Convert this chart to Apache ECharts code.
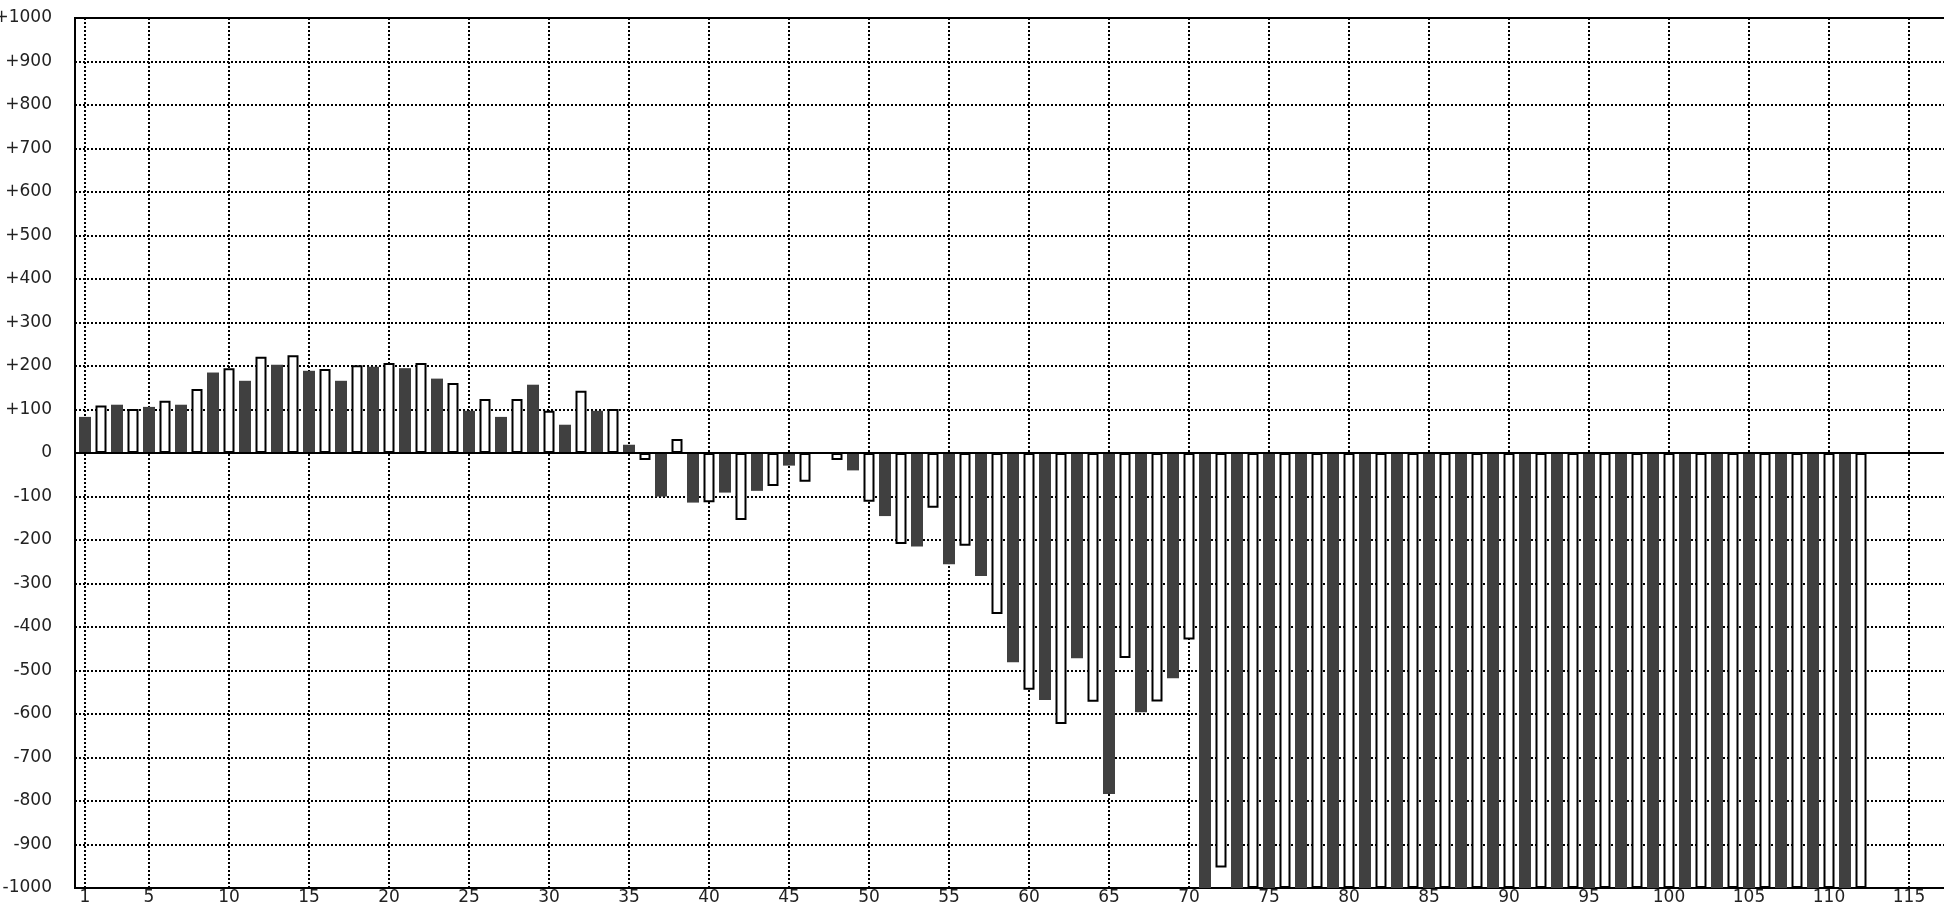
<!DOCTYPE html>
<html>
<head>
<meta charset="utf-8">
<script src="https://cdn.jsdelivr.net/npm/echarts@6/dist/echarts.min.js"></script>
<style>
html,body{margin:0;padding:0;background:#fff;}
#chart{width:1944px;height:908px;}
</style>
</head>
<body>
<div id="chart"></div>
<script>
// Values per position 1..112 (odd = dark bars, even = white bars)
const values = [
  83, 109, 111, 101, 106, 120, 111, 147, 185, 195,
  166, 221, 203, 225, 189, 193, 166, 202, 198, 207,
  195, 207, 171, 161, 97, 124, 83, 124, 157, 97,
  65, 143, 97, 101, 19, -16, -100, 32, -114, -113,
  -91, -154, -87, -76, -29, -66, 0, -16, -40, -112,
  -145, -209, -215, -126, -256, -213, -283, -370, -481, -544,
  -568, -623, -472, -572, -784, -471, -596, -571, -518, -429,
  -1000, -953, -1000, -1000, -1000, -1000, -1000, -1000, -1000, -1000,
  -1000, -1000, -1000, -1000, -1000, -1000, -1000, -1000, -1000, -1000,
  -1000, -1000, -1000, -1000, -1000, -1000, -1000, -1000, -1000, -1000,
  -1000, -1000, -1000, -1000, -1000, -1000, -1000, -1000, -1000, -1000,
  -1000, -1000
];
const xTickLabels = [1, 5, 10, 15, 20, 25, 30, 35, 40, 45, 50, 55, 60, 65, 70, 75, 80, 85, 90, 95, 100, 105, 110, 115];
const yMin = -1000, yMax = 1000, yStep = 100;

const darkData = [];
const whiteData = [];
values.forEach((v, i) => {
  const pos = i + 1;
  if (pos % 2 === 1) darkData.push([pos, v]); else whiteData.push([pos, v]);
});

const chart = echarts.init(document.getElementById('chart'), null, {renderer: 'canvas'});
const FONT = 'DejaVu Sans';
const xMin = 0.375, xMax = 118.4375;
const dotted = {show: true, lineStyle: {color: '#000', width: 2, type: [2, 2]}};

chart.setOption({
  animation: false,
  backgroundColor: '#fff',
  grid: {left: 75, top: 18, right: -20, bottom: 20, show: true, borderColor: '#000', borderWidth: 2,
         backgroundColor: 'transparent', containLabel: false, outerBoundsMode: 'none'},
  xAxis: [{
    type: 'value', min: xMin, max: xMax,
    axisLine: {show: false},
    axisTick: {show: false, customValues: xTickLabels},
    axisLabel: {customValues: xTickLabels, fontFamily: FONT, fontSize: 17, color: '#222', margin: 1, hideOverlap: false},
    splitLine: dotted
  }, {
    type: 'value', min: xMin, max: xMax, show: false,
    splitLine: {show: false}
  }],
  yAxis: {
    type: 'value', min: yMin, max: yMax, interval: yStep,
    axisLine: {show: false},
    axisTick: {show: false},
    axisLabel: {
      fontFamily: FONT, fontSize: 17, color: '#222', margin: 23, hideOverlap: false,
      formatter: v => (v > 0 ? '+' + v : String(v))
    },
    splitLine: dotted
  },
  series: [{
    type: 'bar', name: 'dark', xAxisIndex: 0, data: darkData, barWidth: 12,
    itemStyle: {color: '#404040'},
    markLine: {
      silent: true, symbol: ['none', 'none'], label: {show: false},
      lineStyle: {color: '#000', width: 2, type: 'solid'},
      data: [{yAxis: 0}]
    }
  }, {
    type: 'bar', name: 'white', xAxisIndex: 1, data: whiteData, barWidth: 11,
    itemStyle: {color: '#fff', borderColor: '#000', borderWidth: 2}
  }]
});
</script>
</body>
</html>
